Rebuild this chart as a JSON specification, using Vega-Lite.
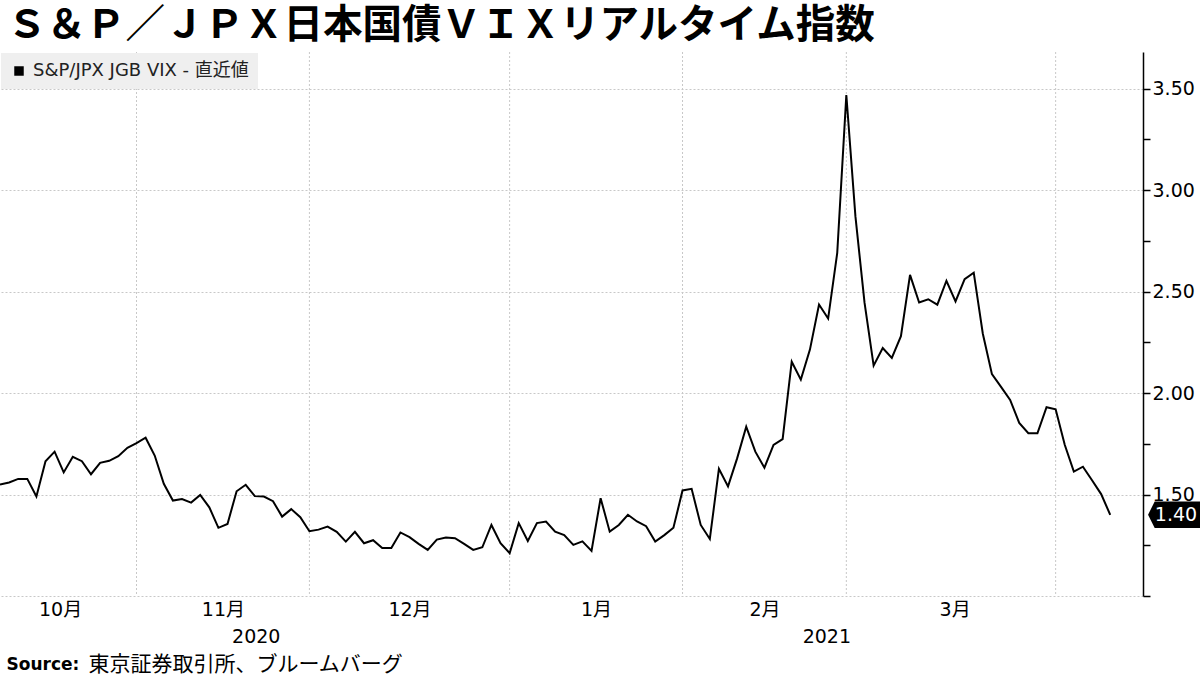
{
  "$schema": "https://vega.github.io/schema/vega-lite/v6.json",
  "width": 1143,
  "height": 544,
  "autosize": {"type": "none"},
  "padding": {"left": 0, "top": 52, "right": 57, "bottom": 79},
  "background": "white",
  "title": {
    "text": "Ｓ＆Ｐ／ＪＰＸ日本国債ＶＩＸリアルタイム指数",
    "anchor": "start",
    "frame": "group",
    "dx": 7,
    "dy": 38,
    "offset": 12,
    "baseline": "alphabetic",
    "fontSize": 39.5,
    "font": "Noto Sans CJK JP",
    "fontWeight": "bold",
    "color": "#000000"
  },
  "config": {"view": {"stroke": null}, "font": "DejaVu Sans, Noto Sans CJK JP"},
  "datasets": {
    "vix": [
      {"i": 0, "date": "2020-10-12", "value": 1.549},
      {"i": 1, "date": "2020-10-13", "value": 1.559},
      {"i": 2, "date": "2020-10-14", "value": 1.577},
      {"i": 3, "date": "2020-10-15", "value": 1.577},
      {"i": 4, "date": "2020-10-16", "value": 1.49},
      {"i": 5, "date": "2020-10-19", "value": 1.664},
      {"i": 6, "date": "2020-10-20", "value": 1.711},
      {"i": 7, "date": "2020-10-21", "value": 1.609},
      {"i": 8, "date": "2020-10-22", "value": 1.686},
      {"i": 9, "date": "2020-10-23", "value": 1.664},
      {"i": 10, "date": "2020-10-26", "value": 1.6},
      {"i": 11, "date": "2020-10-27", "value": 1.656},
      {"i": 12, "date": "2020-10-28", "value": 1.666},
      {"i": 13, "date": "2020-10-29", "value": 1.689},
      {"i": 14, "date": "2020-10-30", "value": 1.73},
      {"i": 15, "date": "2020-11-02", "value": 1.753},
      {"i": 16, "date": "2020-11-04", "value": 1.78},
      {"i": 17, "date": "2020-11-05", "value": 1.692},
      {"i": 18, "date": "2020-11-06", "value": 1.553},
      {"i": 19, "date": "2020-11-09", "value": 1.47},
      {"i": 20, "date": "2020-11-10", "value": 1.478},
      {"i": 21, "date": "2020-11-11", "value": 1.46},
      {"i": 22, "date": "2020-11-12", "value": 1.498},
      {"i": 23, "date": "2020-11-13", "value": 1.437},
      {"i": 24, "date": "2020-11-16", "value": 1.336},
      {"i": 25, "date": "2020-11-17", "value": 1.355},
      {"i": 26, "date": "2020-11-18", "value": 1.516},
      {"i": 27, "date": "2020-11-19", "value": 1.548},
      {"i": 28, "date": "2020-11-20", "value": 1.492},
      {"i": 29, "date": "2020-11-24", "value": 1.49},
      {"i": 30, "date": "2020-11-25", "value": 1.467},
      {"i": 31, "date": "2020-11-26", "value": 1.391},
      {"i": 32, "date": "2020-11-27", "value": 1.428},
      {"i": 33, "date": "2020-11-30", "value": 1.388},
      {"i": 34, "date": "2020-12-01", "value": 1.319},
      {"i": 35, "date": "2020-12-02", "value": 1.327},
      {"i": 36, "date": "2020-12-03", "value": 1.342},
      {"i": 37, "date": "2020-12-04", "value": 1.316},
      {"i": 38, "date": "2020-12-07", "value": 1.268},
      {"i": 39, "date": "2020-12-08", "value": 1.316},
      {"i": 40, "date": "2020-12-09", "value": 1.26},
      {"i": 41, "date": "2020-12-10", "value": 1.275},
      {"i": 42, "date": "2020-12-11", "value": 1.237},
      {"i": 43, "date": "2020-12-14", "value": 1.237},
      {"i": 44, "date": "2020-12-15", "value": 1.313},
      {"i": 45, "date": "2020-12-16", "value": 1.29},
      {"i": 46, "date": "2020-12-17", "value": 1.257},
      {"i": 47, "date": "2020-12-18", "value": 1.227},
      {"i": 48, "date": "2020-12-21", "value": 1.278},
      {"i": 49, "date": "2020-12-22", "value": 1.288},
      {"i": 50, "date": "2020-12-23", "value": 1.285},
      {"i": 51, "date": "2020-12-24", "value": 1.257},
      {"i": 52, "date": "2020-12-25", "value": 1.227},
      {"i": 53, "date": "2020-12-28", "value": 1.24},
      {"i": 54, "date": "2020-12-29", "value": 1.35},
      {"i": 55, "date": "2020-12-30", "value": 1.26},
      {"i": 56, "date": "2021-01-04", "value": 1.211},
      {"i": 57, "date": "2021-01-05", "value": 1.359},
      {"i": 58, "date": "2021-01-06", "value": 1.271},
      {"i": 59, "date": "2021-01-07", "value": 1.359},
      {"i": 60, "date": "2021-01-08", "value": 1.367},
      {"i": 61, "date": "2021-01-12", "value": 1.317},
      {"i": 62, "date": "2021-01-13", "value": 1.3},
      {"i": 63, "date": "2021-01-14", "value": 1.252},
      {"i": 64, "date": "2021-01-15", "value": 1.269},
      {"i": 65, "date": "2021-01-18", "value": 1.222},
      {"i": 66, "date": "2021-01-19", "value": 1.482},
      {"i": 67, "date": "2021-01-20", "value": 1.317},
      {"i": 68, "date": "2021-01-21", "value": 1.35},
      {"i": 69, "date": "2021-01-22", "value": 1.4},
      {"i": 70, "date": "2021-01-25", "value": 1.367},
      {"i": 71, "date": "2021-01-26", "value": 1.344},
      {"i": 72, "date": "2021-01-27", "value": 1.268},
      {"i": 73, "date": "2021-01-28", "value": 1.3},
      {"i": 74, "date": "2021-01-29", "value": 1.336},
      {"i": 75, "date": "2021-02-01", "value": 1.52},
      {"i": 76, "date": "2021-02-02", "value": 1.528},
      {"i": 77, "date": "2021-02-03", "value": 1.35},
      {"i": 78, "date": "2021-02-04", "value": 1.281},
      {"i": 79, "date": "2021-02-05", "value": 1.627},
      {"i": 80, "date": "2021-02-08", "value": 1.54},
      {"i": 81, "date": "2021-02-09", "value": 1.678},
      {"i": 82, "date": "2021-02-10", "value": 1.834},
      {"i": 83, "date": "2021-02-12", "value": 1.711},
      {"i": 84, "date": "2021-02-15", "value": 1.632},
      {"i": 85, "date": "2021-02-16", "value": 1.744},
      {"i": 86, "date": "2021-02-17", "value": 1.773},
      {"i": 87, "date": "2021-02-18", "value": 2.154},
      {"i": 88, "date": "2021-02-19", "value": 2.066},
      {"i": 89, "date": "2021-02-22", "value": 2.214},
      {"i": 90, "date": "2021-02-24", "value": 2.436},
      {"i": 91, "date": "2021-02-25", "value": 2.367},
      {"i": 92, "date": "2021-02-26", "value": 2.69},
      {"i": 93, "date": "2021-03-01", "value": 3.468},
      {"i": 94, "date": "2021-03-02", "value": 2.87},
      {"i": 95, "date": "2021-03-03", "value": 2.445},
      {"i": 96, "date": "2021-03-04", "value": 2.135},
      {"i": 97, "date": "2021-03-05", "value": 2.222},
      {"i": 98, "date": "2021-03-08", "value": 2.173},
      {"i": 99, "date": "2021-03-09", "value": 2.28},
      {"i": 100, "date": "2021-03-10", "value": 2.582},
      {"i": 101, "date": "2021-03-11", "value": 2.446},
      {"i": 102, "date": "2021-03-12", "value": 2.462},
      {"i": 103, "date": "2021-03-15", "value": 2.435},
      {"i": 104, "date": "2021-03-16", "value": 2.553},
      {"i": 105, "date": "2021-03-17", "value": 2.451},
      {"i": 106, "date": "2021-03-18", "value": 2.561},
      {"i": 107, "date": "2021-03-19", "value": 2.593},
      {"i": 108, "date": "2021-03-22", "value": 2.292},
      {"i": 109, "date": "2021-03-23", "value": 2.093},
      {"i": 110, "date": "2021-03-24", "value": 2.03},
      {"i": 111, "date": "2021-03-25", "value": 1.966},
      {"i": 112, "date": "2021-03-26", "value": 1.853},
      {"i": 113, "date": "2021-03-29", "value": 1.802},
      {"i": 114, "date": "2021-03-30", "value": 1.802},
      {"i": 115, "date": "2021-03-31", "value": 1.93},
      {"i": 116, "date": "2021-04-01", "value": 1.92},
      {"i": 117, "date": "2021-04-02", "value": 1.745},
      {"i": 118, "date": "2021-04-05", "value": 1.613},
      {"i": 119, "date": "2021-04-06", "value": 1.637},
      {"i": 120, "date": "2021-04-07", "value": 1.57},
      {"i": 121, "date": "2021-04-08", "value": 1.502},
      {"i": 122, "date": "2021-04-09", "value": 1.4}
    ]
  },
  "data": {"name": "vix"},
  "layer": [
    {
      "transform": [
        {"timeUnit": "utcyearmonth", "field": "date", "as": "ym"},
        {"aggregate": [{"op": "min", "field": "i", "as": "start"}], "groupby": ["ym"]},
        {"filter": "datum.start > 0"}
      ],
      "mark": {"type": "rule", "color": "#c8c8c8", "strokeDash": [2, 2], "strokeWidth": 1},
      "encoding": {
        "x": {
          "field": "start",
          "type": "quantitative",
          "scale": {"domain": [0, 125.6], "nice": false, "zero": false},
          "axis": {
            "values": [6.6, 24.5, 28.1, 45, 65.5, 84, 90.8, 104.9],
            "labelExpr": "datum.value < 10 ? '10月' : datum.value < 26 ? '11月' : datum.value < 30 ? ['', '2020'] : datum.value < 50 ? '12月' : datum.value < 70 ? '1月' : datum.value < 88 ? '2月' : datum.value < 95 ? ['', '2021'] : '3月'",
            "grid": false,
            "ticks": false,
            "domain": false,
            "labelOverlap": false,
            "labelFlush": false,
            "labelBound": false,
            "labelAlign": "center",
            "labelBaseline": "top",
            "labelLineHeight": 27,
            "labelPadding": 4,
            "labelFontSize": 19,
            "labelColor": "#000000",
            "labelFont": "DejaVu Sans, Noto Sans CJK JP",
            "title": "東京証券取引所、ブルームバーグ",
            "titleX": 88,
            "titleY": 68,
            "titleAlign": "left",
            "titleAnchor": null,
            "titleBaseline": "middle",
            "titleFontSize": 21,
            "titleFontWeight": "normal",
            "titleFont": "Noto Sans CJK JP",
            "titleColor": "#000000"
          }
        }
      }
    },
    {
      "mark": {"type": "line", "strokeWidth": 2, "interpolate": "linear"},
      "encoding": {
        "x": {"field": "i", "type": "quantitative"},
        "y": {
          "field": "value",
          "type": "quantitative",
          "scale": {"domain": [1, 3.68], "nice": false, "zero": false},
          "axis": {
            "orient": "right",
            "values": [1, 1.25, 1.5, 1.75, 2, 2.25, 2.5, 2.75, 3, 3.25, 3.5],
            "labelExpr": "(datum.value % 0.5 == 0 && datum.value > 1) ? format(datum.value, '.2f') : ''",
            "grid": true,
            "gridColor": "#c8c8c8",
            "gridDash": [2, 2],
            "gridWidth": 1,
            "gridOpacity": {"condition": {"test": "datum.value % 0.5 == 0", "value": 1}, "value": 0},
            "domainColor": "#000000",
            "domainWidth": 1.5,
            "tickColor": "#000000",
            "tickSize": 7,
            "tickWidth": 1.5,
            "labelFontSize": 19,
            "labelColor": "#000000",
            "labelPadding": 2,
            "labelFont": "DejaVu Sans",
            "labelBaseline": "middle",
            "title": "Source:",
            "titleAngle": 0,
            "titleX": -1137,
            "titleY": 612,
            "titleAlign": "left",
            "titleAnchor": null,
            "titleBaseline": "middle",
            "titleFontSize": 17,
            "titleFontWeight": "bold",
            "titleFont": "DejaVu Sans",
            "titleColor": "#000000"
          }
        },
        "color": {
          "datum": "S&P/JPX JGB VIX - 直近値",
          "type": "nominal",
          "scale": {"range": ["#000000"]},
          "legend": {
            "orient": "top-left",
            "offset": 1,
            "title": null,
            "fillColor": "#efefef",
            "padding": 9,
            "symbolType": "square",
            "symbolSize": 90,
            "symbolFillColor": "#000000",
            "symbolStrokeWidth": 0,
            "labelFontSize": 18,
            "labelFont": "DejaVu Sans, Noto Sans CJK JP",
            "labelColor": "#222222",
            "labelOffset": 5,
            "labelLimit": 400
          }
        }
      }
    },
    {
      "transform": [
        {"joinaggregate": [{"op": "max", "field": "i", "as": "last"}]},
        {"filter": "datum.i == datum.last"}
      ],
      "mark": {
        "type": "point",
        "shape": "M0.38,0L0.88,-1L4.7,-1L4.7,1L0.88,1Z",
        "filled": true,
        "color": "#000000",
        "opacity": 1,
        "size": 708,
        "strokeWidth": 0
      },
      "encoding": {
        "x": {"datum": 125.6, "type": "quantitative"},
        "y": {"field": "value", "type": "quantitative"}
      }
    },
    {
      "transform": [
        {"joinaggregate": [{"op": "max", "field": "i", "as": "last"}]},
        {"filter": "datum.i == datum.last"}
      ],
      "mark": {
        "type": "text",
        "color": "#ffffff",
        "fontSize": 19,
        "font": "DejaVu Sans",
        "dx": 33,
        "align": "center",
        "baseline": "middle"
      },
      "encoding": {
        "x": {"datum": 125.6, "type": "quantitative"},
        "y": {"field": "value", "type": "quantitative"},
        "text": {"field": "value", "type": "quantitative", "format": ".2f"}
      }
    }
  ]
}
